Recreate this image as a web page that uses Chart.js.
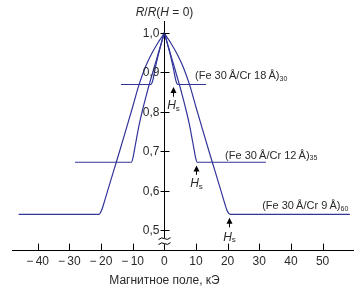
<!DOCTYPE html>
<html>
<head>
<meta charset="utf-8">
<script src="https://cdn.jsdelivr.net/npm/chart.js@4.4.0/dist/chart.umd.min.js"></script>
<style>
    html, body { margin: 0; padding: 0; background: #fff; }
    #wrap { width: 359px; height: 290px; }
</style>
</head>
<body>
<div id="wrap"><canvas id="chart"></canvas></div>
<script>
// tick labels
const xTicks = [-40, -30, -20, -10, 0, 10, 20, 30, 40, 50];
const yTicks = [0.5, 0.6, 0.7, 0.8, 0.9, 1.0];

// (Fe 30Å/Cr 18Å)30
const fieldCr18 = [-13.7, -4.4, -3.9, -3.5, -3, -2, -1, -0.5, 0, 0.5, 1, 2, 3, 3.5, 3.9, 4.4, 13.2];
const resCr18 = [0.869, 0.869, 0.873, 0.884, 0.905, 0.941, 0.972, 0.986, 1.0, 0.986, 0.972, 0.941, 0.905, 0.884, 0.873, 0.869, 0.869];

// (Fe 30Å/Cr 12Å)35
const fieldCr12 = [-28.2, -10.4, -9.9, -9.5, -9, -8, -7, -6, -5, -4, -3, -2, -1, -0.5, 0, 0.5, 1, 2, 3, 4, 5, 6, 7, 8, 9, 9.5, 9.9, 10.4, 32.1];
const resCr12 = [0.672, 0.672, 0.683, 0.70, 0.722, 0.765, 0.80, 0.832, 0.862, 0.89, 0.918, 0.945, 0.972, 0.986, 1.0, 0.986, 0.972, 0.945, 0.918, 0.89, 0.862, 0.832, 0.80, 0.765, 0.722, 0.70, 0.683, 0.672, 0.672];

// (Fe 30Å/Cr 9Å)60
const fieldCr9 = [-46, -20.6, -19.8, -19, -18, -16, -14, -12, -10, -8, -6, -4, -2, -0.5, 0, 0.5, 2, 4, 6, 8, 10, 12, 14, 16, 18, 19, 19.8, 20.8, 58.6];
const resCr9 = [0.54, 0.54, 0.55, 0.57, 0.597, 0.65, 0.703, 0.757, 0.812, 0.868, 0.913, 0.947, 0.975, 0.993, 1.0, 0.993, 0.975, 0.947, 0.913, 0.868, 0.812, 0.757, 0.703, 0.65, 0.597, 0.57, 0.55, 0.54, 0.54];

// подписи кривых и стрелки H_s (в координатах данных)
const curveLabels = [
    {h: 9.7, r: 0.891, text: '(Fe 30\u2009Å/Cr 18\u2009Å)', sub: '30'},
    {h: 19.2, r: 0.689, text: '(Fe 30\u2009Å/Cr 12\u2009Å)', sub: '35'},
    {h: 30.9, r: 0.560, text: '(Fe 30\u2009Å/Cr 9\u2009Å)', sub: '60'}
];
const hsArrows = [
    {h: 2.9, tip: 0.863, base: 0.838, label: 0.815},
    {h: 10.1, tip: 0.664, base: 0.640, label: 0.617},
    {h: 20.3, tip: 0.531, base: 0.507, label: 0.482}
];

const lineColor = '#32359a';
const textColor = '#2a2a2a';
const fontFamily = '"Liberation Sans", Arial, sans-serif';

const toPoints = (hs, rs) => hs.map((h, i) => ({x: h, y: rs[i]}));
const fmtY = v => v.toFixed(1).replace('.', ',');

function drawRuns(ctx, runs, x, y, align) {
    const fontFor = r => (r.italic ? 'italic ' : '') + r.size + 'px ' + fontFamily;
    let w = 0;
    runs.forEach(r => { ctx.font = fontFor(r); w += ctx.measureText(r.t).width; });
    let cx = align === 'center' ? x - w / 2 : x;
    runs.forEach(r => {
        ctx.font = fontFor(r);
        ctx.fillText(r.t, cx, y + (r.dy || 0));
        cx += ctx.measureText(r.t).width;
    });
}

const decorPlugin = {
    id: 'decor',
    afterDraw(chart) {
        const {ctx, chartArea, scales: {x, y}} = chart;
        const x0 = Math.round(x.getPixelForValue(0)) + 0.5;
        ctx.save();
        ctx.strokeStyle = '#000';
        ctx.lineWidth = 1;

        // деления и подписи оси Y
        ctx.fillStyle = textColor;
        ctx.font = '12px ' + fontFamily;
        ctx.textAlign = 'right';
        ctx.textBaseline = 'middle';
        y.ticks.forEach(t => {
            const py = Math.round(y.getPixelForValue(t.value)) + 0.5;
            ctx.beginPath();
            ctx.moveTo(x0 - 4, py);
            ctx.lineTo(x0 + 5, py);
            ctx.stroke();
            ctx.fillText(fmtY(t.value), x0 - 5, py);
        });
        ctx.textAlign = 'left';

        // деления оси X (вверх)
        const yb = chartArea.bottom;
        x.ticks.forEach(t => {
            const px = Math.round(x.getPixelForValue(t.value)) + 0.5;
            ctx.beginPath();
            ctx.moveTo(px, yb);
            ctx.lineTo(px, yb - 7);
            ctx.stroke();
        });

        // разрыв оси
        const yBreak = y.getPixelForValue(0.472);
        ctx.fillStyle = '#fff';
        ctx.fillRect(x0 - 2, yBreak - 3, 4, 6);
        [-2.5, 2.5].forEach(d => {
            ctx.beginPath();
            ctx.moveTo(x0 - 6, yBreak + d + 1);
            ctx.quadraticCurveTo(x0 - 3, yBreak + d - 2, x0, yBreak + d);
            ctx.quadraticCurveTo(x0 + 3, yBreak + d + 2, x0 + 6, yBreak + d - 1);
            ctx.stroke();
        });

        // стрелки H_s
        ctx.fillStyle = '#000';
        hsArrows.forEach(a => {
            const px = Math.round(x.getPixelForValue(a.h)) + 0.5;
            const pt = y.getPixelForValue(a.tip);
            const pb = y.getPixelForValue(a.base);
            ctx.beginPath();
            ctx.moveTo(px, pb);
            ctx.lineTo(px, pt + 4);
            ctx.stroke();
            ctx.beginPath();
            ctx.moveTo(px, pt);
            ctx.lineTo(px - 3, pt + 6);
            ctx.lineTo(px + 3, pt + 6);
            ctx.closePath();
            ctx.fill();
            ctx.fillStyle = textColor;
            drawRuns(ctx, [
                {t: 'H', italic: true, size: 12},
                {t: 's', size: 8, dy: 3}
            ], px, y.getPixelForValue(a.label), 'center');
            ctx.fillStyle = '#000';
        });

        // подписи кривых
        ctx.fillStyle = textColor;
        curveLabels.forEach(l => {
            drawRuns(ctx, [
                {t: l.text, size: 11},
                {t: l.sub, size: 7, dy: 3}
            ], x.getPixelForValue(l.h), y.getPixelForValue(l.r), 'left');
        });

        // заголовок оси Y
        drawRuns(ctx, [
            {t: 'R', italic: true, size: 12},
            {t: '/', size: 12},
            {t: 'R', italic: true, size: 12},
            {t: '(', size: 12},
            {t: 'H', italic: true, size: 12},
            {t: ' = 0)', size: 12}
        ], x0, 13, 'center');

        // подпись оси X
        ctx.font = '12px ' + fontFamily;
        ctx.textAlign = 'center';
        ctx.fillText('Магнитное поле, кЭ', x0, 281);
        ctx.restore();
    }
};

const makeSet = (label, hs, rs) => ({
    label: label,
    data: toPoints(hs, rs),
    borderColor: lineColor,
    borderWidth: 1.2,
    pointRadius: 0,
    fill: false,
    cubicInterpolationMode: 'monotone'
});

new Chart(document.getElementById('chart'), {
    type: 'line',
    data: {
        datasets: [
            makeSet('Cr 18Å', fieldCr18, resCr18),
            makeSet('Cr 12Å', fieldCr12, resCr12),
            makeSet('Cr 9Å', fieldCr9, resCr9)
        ]
    },
    options: {
        responsive: true,
        maintainAspectRatio: false,
        animation: false,
        layout: { padding: { left: 12, right: 6, top: 21, bottom: 17 } },
        plugins: {
            legend: { display: false },
            tooltip: { enabled: false }
        },
        scales: {
            x: {
                type: 'linear',
                min: -48.1,
                max: 59.6,
                afterBuildTicks: s => { s.ticks = xTicks.map(v => ({value: v})); },
                grid: { display: false, drawTicks: false },
                border: { display: true, color: '#000', width: 1 },
                ticks: {
                    padding: 4,
                    color: textColor,
                    font: { family: fontFamily, size: 12 },
                    maxRotation: 0,
                    callback: v => (v < 0 ? '\u2212\u2009' + Math.abs(v) : String(v))
                }
            },
            y: {
                type: 'linear',
                min: 0.448,
                max: 1.03,
                position: { x: 0 },
                afterBuildTicks: s => { s.ticks = yTicks.map(v => ({value: v})); },
                grid: { display: false, drawTicks: false },
                border: { display: true, color: '#000', width: 1 },
                ticks: { display: false }
            }
        }
    },
    plugins: [decorPlugin]
});
</script>
</body>
</html>
